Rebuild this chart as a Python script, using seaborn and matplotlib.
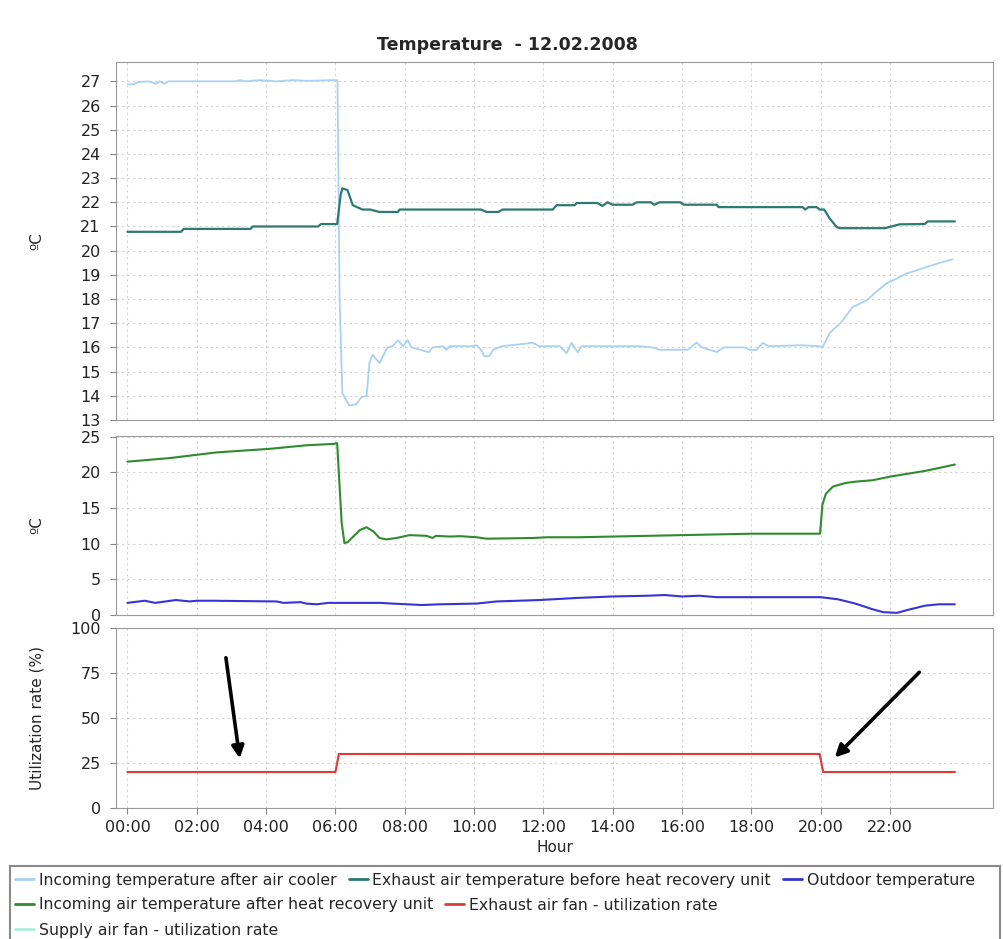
import matplotlib
matplotlib.use("Agg")
import matplotlib.pyplot as plt
import seaborn as sns
from matplotlib.patches import Rectangle
from matplotlib.lines import Line2D

# hours since midnight and readings
cooler_h = [0.0, 0.2, 0.3, 0.6, 0.83, 0.93, 1.07, 1.18, 3.1, 3.25, 3.4, 3.8, 4.3, 4.76, 5.2, 5.9,
            6.06, 6.12, 6.2, 6.4, 6.6, 6.75, 6.9, 6.98, 7.07, 7.27, 7.5, 7.65, 7.8, 7.95, 8.08, 8.2,
            8.7, 8.8, 9.1, 9.2, 9.3, 9.96, 10.06, 10.2, 10.3, 10.45, 10.55, 10.8, 11.69, 11.88,
            12.47, 12.67, 12.81, 12.99, 13.1, 14.2, 14.77, 15.15, 15.35, 16.16, 16.42, 16.57,
            17.0, 17.2, 17.8, 17.96, 18.15, 18.33, 18.5, 19.42, 19.97, 20.05, 20.26, 20.6, 20.92,
            21.33, 21.6, 21.9, 22.2, 22.48, 22.8, 23.06, 23.4, 23.6, 23.8]
cooler_t = [26.88, 26.88, 26.97, 27.0, 26.9, 27.0, 26.9, 27.0, 27.0, 27.05, 27.0, 27.05, 27.0, 27.05, 27.02, 27.05,
            27.05, 18.0, 14.1, 13.6, 13.65, 13.95, 14.0, 15.35, 15.7, 15.35, 16.0, 16.05, 16.3, 16.05, 16.3, 16.0,
            15.8, 16.0, 16.05, 15.9, 16.05, 16.05, 16.1, 15.9, 15.63, 15.65, 15.9, 16.05, 16.19, 16.05,
            16.05, 15.76, 16.19, 15.8, 16.05, 16.05, 16.05, 16.0, 15.9, 15.9, 16.2, 16.0,
            15.81, 16.0, 16.0, 15.9, 15.9, 16.19, 16.05, 16.09, 16.05, 16.0, 16.6, 17.05, 17.67,
            17.95, 18.3, 18.65, 18.85, 19.06, 19.2, 19.33, 19.48, 19.56, 19.64]

exhaust_h = [0.0, 1.55, 1.62, 3.55, 3.62, 5.5, 5.58, 6.05, 6.15, 6.2, 6.35, 6.5, 6.78, 7.0, 7.27, 7.8,
             7.85, 10.2, 10.36, 10.7, 10.82, 12.27, 12.38, 12.9, 12.96, 13.56, 13.7, 13.85, 14.0,
             14.57, 14.7, 15.1, 15.2, 15.35, 15.95, 16.05, 17.0, 17.05, 19.48, 19.55, 19.65, 19.88,
             19.97, 20.1, 20.26, 20.46, 20.55, 21.85, 22.28, 23.0, 23.09, 23.87]
exhaust_t = [20.78, 20.78, 20.9, 20.9, 21.0, 21.0, 21.1, 21.1, 22.3, 22.58, 22.5, 21.88, 21.7, 21.7, 21.6, 21.6,
             21.7, 21.7, 21.6, 21.6, 21.7, 21.7, 21.88, 21.88, 21.97, 21.97, 21.85, 22.0, 21.9,
             21.9, 22.0, 22.0, 21.9, 22.0, 22.0, 21.9, 21.9, 21.8, 21.8, 21.7, 21.8, 21.8,
             21.7, 21.7, 21.33, 20.98, 20.93, 20.93, 21.09, 21.1, 21.21, 21.21]

outdoor_h = [0.0, 0.5, 0.8, 1.4, 1.8, 2.0, 2.45, 4.3, 4.5, 5.0, 5.16, 5.45, 5.8, 7.3, 7.65, 8.5, 9.0,
             10.07, 10.65, 11.9, 13.0, 14.0, 15.0, 15.5, 16.0, 16.5, 17.0, 18.0, 19.0, 20.0, 20.5,
             21.0, 21.5, 21.8, 22.2, 22.5, 23.0, 23.4, 23.87]
outdoor_t = [1.7, 2.0, 1.7, 2.1, 1.9, 2.0, 2.0, 1.9, 1.7, 1.8, 1.6, 1.5, 1.7, 1.7, 1.6, 1.4, 1.5,
             1.6, 1.9, 2.1, 2.4, 2.6, 2.7, 2.8, 2.6, 2.7, 2.5, 2.5, 2.5, 2.5, 2.2,
             1.6, 0.8, 0.4, 0.3, 0.7, 1.3, 1.5, 1.5]

recovery_h = [0.0, 1.21, 2.57, 4.1, 5.17, 5.97, 6.05, 6.18, 6.26, 6.35, 6.7, 6.9, 7.1, 7.27, 7.47, 7.76,
              8.14, 8.63, 8.8, 8.9, 9.3, 9.6, 10.07, 10.36, 11.7, 12.1, 13.0, 14.0, 15.0, 16.0, 17.0,
              18.0, 19.0, 19.98, 20.05, 20.15, 20.35, 20.7, 21.0, 21.5, 22.0, 22.5, 23.0, 23.4, 23.87]
recovery_t = [21.5, 22.0, 22.8, 23.3, 23.8, 24.0, 24.1, 12.9, 10.1, 10.2, 11.9, 12.3, 11.7, 10.8, 10.6, 10.8,
              11.2, 11.1, 10.8, 11.1, 11.0, 11.05, 10.9, 10.7, 10.8, 10.9, 10.9, 11.0, 11.1, 11.2, 11.3,
              11.4, 11.4, 11.4, 15.5, 17.0, 18.0, 18.5, 18.7, 18.9, 19.4, 19.8, 20.2, 20.6, 21.1]

fan_h = [0.0, 6.0, 6.1, 19.97, 20.07, 23.87]
exhaust_fan = [20, 20, 30, 30, 20, 20]
supply_fan = [20, 20, 30, 30, 20, 20]

hour_ticks = list(range(0, 24, 2))
hour_labels = ["%02d:00" % h for h in hour_ticks]

legend_rows = [
    [("Incoming temperature after air cooler", "#a9d1f2"),
     ("Exhaust air temperature before heat recovery unit", "#2c7a72"),
     ("Outdoor temperature", "#3535d6")],
    [("Incoming air temperature after heat recovery unit", "#2e8b2e"),
     ("Exhaust air fan - utilization rate", "#e03a3a")],
    [("Supply air fan - utilization rate", "#aef2dc")],
]

sns.set_style("white")
plt.rcParams['font.family'] = ['DejaVu Sans']

fig = plt.figure(figsize=(10.04, 9.39), dpi=100)
W, H = 1004, 939


def add_ax(top, bottom):
    return fig.add_axes([116 / W, 1 - bottom / H, 877 / W, (bottom - top) / H])


ax1 = add_ax(62, 420)
ax2 = add_ax(436, 615)
ax3 = add_ax(628, 808)

sns.lineplot(x=cooler_h, y=cooler_t, ax=ax1, color="#a9d1f2", lw=1.3, estimator=None, sort=False)
sns.lineplot(x=exhaust_h, y=exhaust_t, ax=ax1, color="#2c7a72", lw=1.6, estimator=None, sort=False)
sns.lineplot(x=recovery_h, y=recovery_t, ax=ax2, color="#2e8b2e", lw=1.5, estimator=None, sort=False)
sns.lineplot(x=outdoor_h, y=outdoor_t, ax=ax2, color="#3535d6", lw=1.5, estimator=None, sort=False)
sns.lineplot(x=fan_h, y=supply_fan, ax=ax3, color="#aef2dc", lw=1.5, estimator=None, sort=False)
sns.lineplot(x=fan_h, y=exhaust_fan, ax=ax3, color="#e03a3a", lw=1.5, estimator=None, sort=False)

ax1.set_ylim(13, 27.8)
ax1.set_yticks(range(13, 28))
ax2.set_ylim(0, 25.1)
ax2.set_yticks(range(0, 26, 5))
ax3.set_ylim(0, 100)
ax3.set_yticks(range(0, 101, 25))

for ax in (ax1, ax2, ax3):
    ax.set_xlim(-0.33, 24.97)
    ax.set_xticks(hour_ticks)
    ax.grid(True, ls=(0, (2, 3)), color="#d2d2d2", lw=0.8)
    for s in ax.spines.values():
        s.set_color("#9a9a9a")
    ax.tick_params(axis="both", direction="out", length=4, color="#888888", pad=5,
                   labelsize=11.5, labelcolor="#222222", left=True, bottom=True)
    ax.tick_params(axis="y", pad=7)
    ax.set_xlabel("")

ax1.tick_params(axis="x", labelbottom=False, length=0)
ax2.tick_params(axis="x", labelbottom=False, length=0)
ax3.set_xticklabels(hour_labels)
ax3.set_xlabel("Hour", fontsize=11, labelpad=3)
ax1.set_ylabel("ºC", fontsize=11)
ax2.set_ylabel("ºC", fontsize=11)
ax3.set_ylabel("Utilization rate (%)", fontsize=11)
for ax in (ax1, ax2, ax3):
    ax.yaxis.set_label_coords(-0.082, 0.5)

# arrows pointing at the fan changes
arrow = dict(arrowstyle="-|>", color="black", lw=2.6, mutation_scale=18)
ax3.annotate("", xy=(3.25, 26), xytext=(2.83, 85), arrowprops=arrow)
ax3.annotate("", xy=(20.35, 27), xytext=(22.9, 76.5), arrowprops=arrow)

fig.text(507 / W, 1 - 45 / H, "Temperature  - 12.02.2008", ha="center", va="center",
         fontsize=12.5, fontweight="bold")

# legend: three flowing rows inside one box
fig.add_artist(Rectangle((10 / W, -0.01), 990 / W, (939 - 866) / H + 0.01, transform=fig.transFigure,
                         fill=False, edgecolor="#8a8a8a", lw=1.5))
for i, row in enumerate(legend_rows):
    handles = [Line2D([], [], color=c, lw=2) for _, c in row]
    labels = [t for t, _ in row]
    fig.legend(handles, labels, loc="center left", bbox_to_anchor=(15 / W, 1 - (880 + 25 * i) / H),
               ncol=len(row), frameon=False, fontsize=11.3, handlelength=1.2, handletextpad=0.3,
               columnspacing=0.8, borderaxespad=0, borderpad=0)

fig.savefig("out.png", dpi=100)
